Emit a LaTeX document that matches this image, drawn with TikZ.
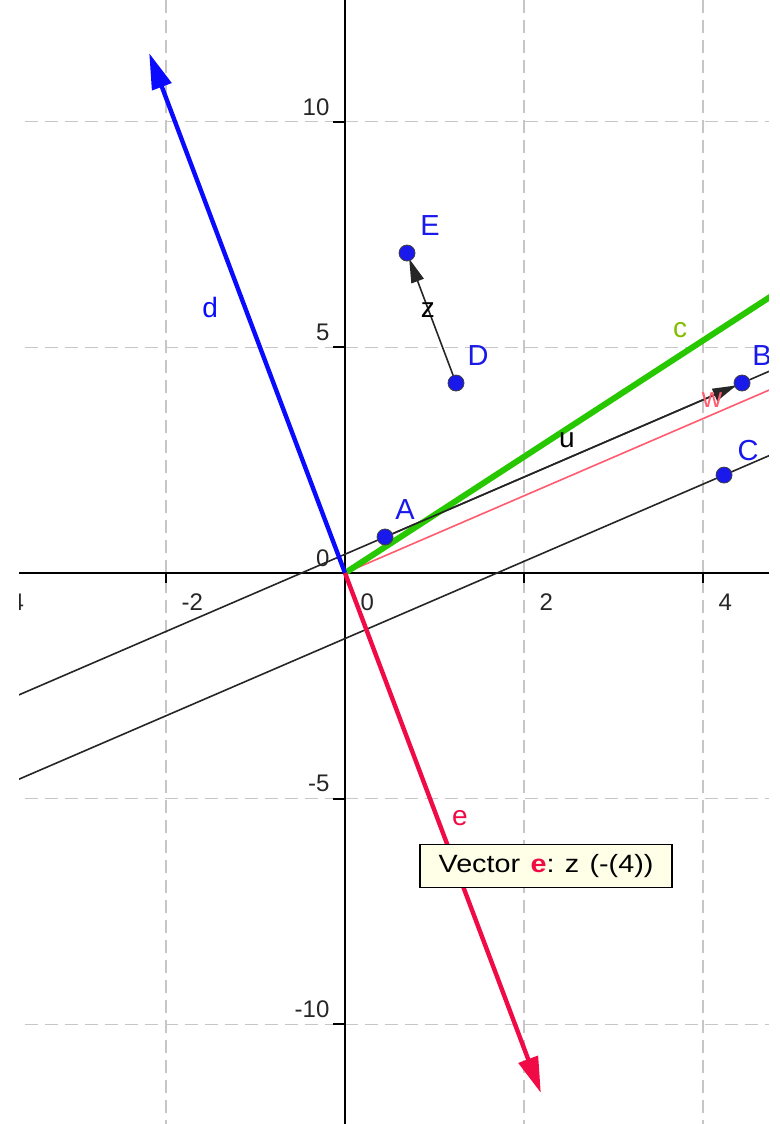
\documentclass[tikz,border=0pt]{standalone}
\usepackage{fontspec}
\setmainfont{Liberation Sans}
\usetikzlibrary{arrows.meta, calc}

\definecolor{vecblue}{RGB}{10,10,255}
\definecolor{vecred}{RGB}{240,10,70}
\definecolor{vecpink}{RGB}{255,90,110}
\definecolor{vecgreen}{RGB}{40,200,0}
\definecolor{labgreen}{RGB}{130,190,0}
\definecolor{ptblue}{RGB}{25,25,235}
\definecolor{tipbg}{RGB}{255,255,232}

\begin{document}
\begin{tikzpicture}[x=44.75pt, y=22.565pt,
    gridline/.style={gray!45, line width=0.75pt, dash pattern=on 6.5pt off 3.5pt},
    thinline/.style={black!85, line width=0.8pt},
    pt/.style={circle, draw=black!75, fill=ptblue, line width=0.4pt, inner sep=0pt, minimum size=8pt},
    ptlabel/.style={text=ptblue, font=\fontsize{14.5}{14.5}\selectfont, inner sep=0pt},
    veclabel/.style={font=\fontsize{14}{14}\selectfont, inner sep=0pt},
    ticklabel/.style={font=\fontsize{12}{12}\selectfont, inner sep=0pt, text=black!85},
    thinvec/.style={thinline, -{Triangle[length=12pt, width=6.5pt]}},
    thickvec/.style={line width=2.2pt, -{Triangle[length=18pt, width=10pt]}}]
    \useasboundingbox (-3.855,-12.209) rectangle (4.860,12.697);
    \begin{scope}
        \clip (-3.642,-12.209) rectangle (4.737,12.697);
        % grid and axes
        \foreach \x in {-4,-2,2,4}
            \draw[gridline] (\x,-12.4) -- (\x,12.9);
        \foreach \y in {-10,-5,5,10}
            \draw[gridline] (-3.8,\y) -- (4.9,\y);
        \draw[line width=0.9pt] (-3.642,0) -- (4.737,0);
        \draw[line width=0.9pt] (0,-12.209) -- (0,12.697);
        \foreach \x in {-4,-2,2,4}
            \draw[line width=0.9pt] (\x,0) -- ++(0pt,-5pt);
        \foreach \y in {-10,-5,5,10}
            \draw[line width=0.9pt] (0,\y) -- ++(-6pt,0pt);
        \foreach \x in {-4,-2,0,2,4}
            \node[ticklabel, anchor=west] (tx\x) at (\x+0.17,-0.64) {\x};
        \foreach \y in {-10,-5,0,5,10}
            \node[ticklabel, anchor=east] (ty\y) at (-0.17,\y+0.33) {\y};

        % points
        \coordinate (O) at (0,0);
        \coordinate (A) at (0.447,0.798);
        \coordinate (B) at (4.436,4.21);
        \coordinate (C) at (4.235,2.17);
        \coordinate (D) at (1.240,4.21);
        \coordinate (E) at (0.693,7.09);
        \coordinate (C2) at ($(C)+(B)-(A)$);
        \coordinate (dtip) at ($4*(E)-4*(D)$);
        \coordinate (etip) at ($4*(D)-4*(E)$);
        \coordinate (cend) at (5.5,7.084);
        \coordinate (wend) at ($1.4*(B)-1.4*(A)$);

        % lines
        \draw[thinline] ($(A)!-2!(B)$) -- ($(A)!2!(B)$);
        \draw[thinline] ($(C)!-3!(C2)$) -- ($(C)!1!(C2)$);
        \draw[vecpink, line width=0.8pt] (O) -- (wend);
        \draw[vecgreen, line width=3pt] (O) -- (cend);

        % vectors
        \draw[thickvec, vecblue] (O) -- (dtip);
        \draw[thickvec, vecred] (O) -- (etip);
        \draw[thinvec, shorten >=3pt] (A) -- (B);
        \draw[thinvec, shorten >=3pt] (D) -- (E);

        \node[pt] (pA) at (A) {};
        \node[pt] (pB) at (B) {};
        \node[pt] (pC) at (C) {};
        \node[pt] (pD) at (D) {};
        \node[pt] (pE) at (E) {};

        % labels
        \node[ptlabel] (lA) at (0.670,1.396) {A};
        \node[ptlabel] (lB) at (4.659,4.83) {B};
        \node[ptlabel] (lC) at (4.503,2.725) {C};
        \node[ptlabel] (lD) at (1.486,4.83) {D};
        \node[ptlabel] (lE) at (0.950,7.71) {E};
        \node[veclabel] (lz) at (0.927,5.83) {z};
        \node[veclabel] (lu) at (2.480,2.947) {u};
        \node[veclabel, text=vecpink] (lw) at (4.101,3.833) {w};
        \node[veclabel, text=labgreen] (lc) at (3.743,5.384) {c};
        \node[veclabel, text=vecblue] (ld) at (-1.508,5.894) {d};
        \node[veclabel, text=vecred] (le) at (1.285,-5.429) {e};

        % tooltip
        \node[draw=black, fill=tipbg, line width=0.6pt, minimum width=126pt, minimum height=21.5pt,
              inner sep=0pt, font=\fontsize{12.5}{12.5}\selectfont] (tip) at (2.246,-6.492)
            {\scalebox{1.15}[1]{Vector\hspace{4.5pt}\textcolor{vecred}{\textbf{e}}:\hspace{4.5pt}z\hspace{4.5pt}(-(4))}};
    \end{scope}
\end{tikzpicture}
\end{document}
